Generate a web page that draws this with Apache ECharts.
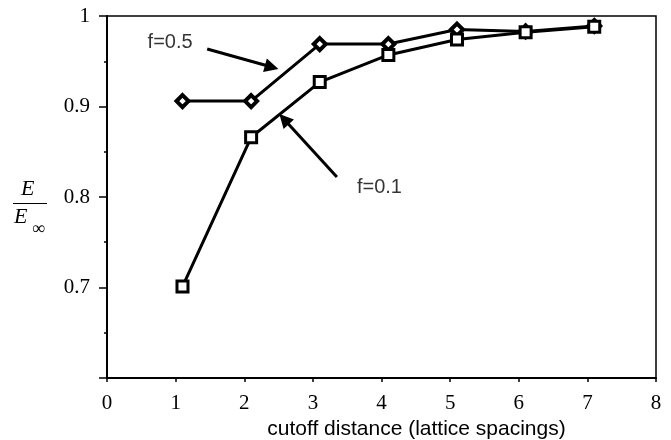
<!DOCTYPE html>
<html><head><meta charset="utf-8">
<script src="https://cdn.jsdelivr.net/npm/echarts@6/dist/echarts.min.js"></script>
<style>html,body{margin:0;padding:0;background:#fff}#c{width:671px;height:440px}</style>
</head><body><div id="c"></div>
<script>
const xValues = [1.1, 2.1, 3.1, 4.1, 5.1, 6.1, 7.1];
const f05 = [0.906, 0.906, 0.969, 0.969, 0.985, 0.983, 0.989];
const f01 = [0.701, 0.866, 0.927, 0.957, 0.974, 0.982, 0.988];
const xTicks = [0, 1, 2, 3, 4, 5, 6, 7, 8];
const yTicks = [0.7, 0.8, 0.9, 1];
const annotations = [
  {text: 'f=0.5', pos: [0.92, 0.971]},
  {text: 'f=0.1', pos: [3.97, 0.81]}
];
const arrows = [
  [[1.46, 0.9635], [2.40, 0.9436]],
  [[3.35, 0.822], [2.58, 0.886]]
];

const chart = echarts.init(document.getElementById('c'), null, {renderer: 'canvas'});
const serif = '"Liberation Serif", "DejaVu Serif", serif';
const sans = '"Liberation Sans", Arial, sans-serif';
chart.setOption({
  animation: false,
  grid: {left: 107, right: 15, top: 16, bottom: 62, containLabel: false, outerBoundsMode: 'none',
    show: true, borderColor: '#000', borderWidth: 1.5, backgroundColor: 'transparent'},
  xAxis: {
    type: 'value', min: 0, max: 8, interval: 1,
    axisLine: {lineStyle: {color: '#000', width: 2}},
    axisTick: {show: true, length: 4, lineStyle: {color: '#000', width: 1.5}},
    axisLabel: {color: '#000', fontFamily: serif, fontSize: 21, margin: 15,
      formatter: v => xTicks.includes(v) ? String(v) : ''},
    splitLine: {show: false},
    name: 'cutoff distance (lattice spacings)', nameLocation: 'middle', nameGap: 37,
    nameTextStyle: {color: '#000', fontFamily: sans, fontSize: 21, verticalAlign: 'top', padding: [0, 0, 0, 70]}
  },
  yAxis: {
    type: 'value', min: 0.6, max: 1, interval: 0.1,
    axisLine: {lineStyle: {color: '#000', width: 2}},
    axisTick: {show: true, length: 8, lineStyle: {color: '#000', width: 1.5}},
    minorTick: {show: true, splitNumber: 2, length: 3, lineStyle: {color: '#000', width: 1.5}},
    axisLabel: {color: '#000', fontFamily: serif, fontSize: 21, margin: 17,
      formatter: v => {
        const m = yTicks.find(t => Math.abs(t - v) < 1e-6);
        return m === undefined ? '' : (m === 1 ? '1' : m.toFixed(1));
      }},
    splitLine: {show: false}
  },
  series: [
    {
      type: 'line', name: 'f=0.5',
      data: xValues.map((x, i) => [x, f05[i]]),
      symbol: 'diamond', symbolSize: 12, showAllSymbol: true,
      lineStyle: {color: '#000', width: 3},
      itemStyle: {color: '#fff', borderColor: '#000', borderWidth: 4},
      z: 3
    },
    {
      type: 'line', name: 'f=0.1',
      data: xValues.map((x, i) => [x, f01[i]]),
      symbol: 'rect', symbolSize: 11, showAllSymbol: true,
      lineStyle: {color: '#000', width: 3},
      itemStyle: {color: '#fff', borderColor: '#000', borderWidth: 3},
      z: 4
    },
    {
      type: 'lines', coordinateSystem: 'cartesian2d',
      data: arrows.map(a => ({coords: a})),
      symbol: ['none', 'triangle'], symbolSize: [0, 14],
      lineStyle: {color: '#000', width: 3, opacity: 1},
      silent: true, z: 5
    },
    {
      type: 'scatter', symbolSize: 0,
      itemStyle: {color: '#000'},
      data: annotations.map(a => ({value: a.pos, label: {formatter: a.text}})),
      label: {show: true, position: 'inside', color: '#000', fontFamily: sans, fontSize: 20, textBorderWidth: 0},
      silent: true, z: 6
    }
  ],
  graphic: [
    {type: 'text', left: 21, top: 178, style: {text: 'E', font: 'italic 22px ' + serif, fill: '#000'}},
    {type: 'line', shape: {x1: 13, y1: 203.5, x2: 47, y2: 203.5}, style: {stroke: '#000', lineWidth: 1}},
    {type: 'text', left: 14, top: 206, style: {text: 'E', font: 'italic 22px ' + serif, fill: '#000'}},
    {type: 'text', left: 32, top: 220, style: {text: '∞', font: '18px ' + serif, fill: '#000'}}
  ]
});
</script></body></html>
